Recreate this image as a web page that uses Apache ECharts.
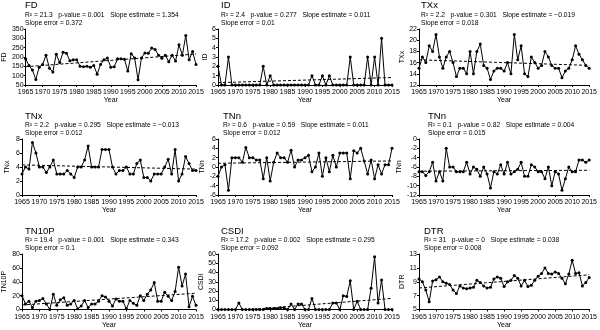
<!DOCTYPE html>
<html>
<head>
<meta charset="utf-8">
<script src="https://cdn.jsdelivr.net/npm/echarts@6/dist/echarts.min.js"></script>
<style>
html, body { margin: 0; padding: 0; background: #fff; }
#chart { width: 600px; height: 330px; }
</style>
</head>
<body>
<div id="chart"></div>
<script>
// years on the x axis
const years = ['1965','1966','1967','1968','1969','1970','1971','1972','1973','1974',
  '1975','1976','1977','1978','1979','1980','1981','1982','1983','1984',
  '1985','1986','1987','1988','1989','1990','1991','1992','1993','1994',
  '1995','1996','1997','1998','1999','2000','2001','2002','2003','2004',
  '2005','2006','2007','2008','2009','2010','2011','2012','2013','2014','2015'];

// index values, 1965..2015
const fd = [190,155,130,80,145,160,210,140,120,215, 170,225,220,180,185,185,150,148,150,145,
  155,108,160,185,195,145,148,190,190,188, 125,218,195,78,195,222,220,248,240,210,
  193,210,175,210,178,265,210,315,185,230, 160];
const id = [2,0,0,3,0,0,0,0,0,0, 0,0,0,2,0,1,0,0,0,0, 0,0,0,0,0,0,0,1,0,0,
  1,0,1,0,0,0,0,0,3,0, 0,0,0,3,0,3,0,5,0,0, 0];
const txx = [15,17,16,19,18,21,17,15,17,18, 16,13.5,15,15,14,18,14,18,19.3,15.5,
  15,13,14.5,15,15,14.5,16,14,21,16.5, 19,14,13.5,17,16,15,15.5,18,17,15.5,
  15,15,13.3,14.5,15,16.5,19,17.5,16.5,15.5, 15];
const tnx = [3,4,3.7,7.5,6,4,4,3.2,4,5, 3,3,3,3.5,3,2.5,4,4,5,7, 4,4,4,6.5,6.5,6.5,4,3,3.5,3.5,
  4,3,3,4.5,5,2.5,2.5,2,3,3, 3,4,5.1,3,6.5,2,3,5.5,4.5,3.5, 3.5];
const tnnA = [-2,0,0.5,-5,2,2,2,1,4.2,2, 2,1.5,1.5,-2.5,2,-3,1,3,2,2, 1,3.6,0,1.5,1.5,2,2.5,-1,0,3,
  -2,2,-1,2.5,0,3,3,3,-2.5,3.5, 3,4,1.3,-1.5,1.5,-2.5,0.5,-1.5,0.5,0.5, 4];
const tnnB = [-7,-7,-7.8,-7,-5,-9,-7,-9,-2,-6, -6,-7,-7,-7,-5,-7.5,-6,-6.5,-8,-6,
  -7.5,-10.5,-7,-7.5,-5.5,-7.5,-5,-7.5,-7,-6.5, -5,-8,-8,-5.5,-6,-7,-7,-8.5,-6,-10,
  -7,-7.5,-11,-8.5,-6,-7,-7,-4.5,-4.5,-5, -4.5];
const tn10p = [20,8,12,3,12,13,16,8,0,22, 6,14,17,6,8,13,1,5,13,3, 8,8,12,20,18,12,5,15,12,12,
  1,13,9,6,20,13,22,28,39,12, 12,25,19,13,26,61,34,51,4,19, 6];
const csdi = [0,0,0,0,0,0,7,0,0,0, 0,0,0,0,1,1,1,1,2,2, 0,6,0,6,6,0,0,12,0,0,
  0,0,0,7,7,0,15,14,31,0, 9,0,0,0,23,57,7,32,0,0, 0];
const dtr = [9.4,9.0,7.8,6.1,9.1,9.3,9.7,9.0,8.8,8.6, 7.8,7.3,8.4,8.1,8.0,8.1,8.2,9.2,8.9,8.4,
  8.1,8.2,9.4,9.7,9.5,8.3,9.0,9.2,9.9,9.5, 8.4,9.2,8.3,8.5,9.2,9.8,10.2,11.0,10.2,10.1,
  10.4,10.2,9.5,8.7,10.1,12.1,10.2,10.3,8.4,8.9, 9.6];

// dashed trend lines: value at 1965 and at 2015
const trendFD = [148, 216];
const trendID = [0.25, 0.8];
const trendTXx = [16.5, 15.5];
const trendTNx = [4.3, 3.7];
const trendTNnA = [0.8, 1.3];
const trendTNnB = [-6.9, -6.7];
const trendTN10P = [6.5, 23.5];
const trendCSDI = [-2.7, 12];
const trendDTR = [8.1, 10.0];

const names = ['FD', 'ID', 'TXx', 'TNx', 'TNn', 'TNn', 'TN10P', 'CSDI', 'DTR'];
const stats = [
  ['R² = 21.3   p-value = 0.001   Slope estimate = 1.354', 'Slope error = 0.372'],
  ['R² = 2.4   p-value = 0.277   Slope estimate = 0.011', 'Slope error = 0.01'],
  ['R² = 2.2   p-value = 0.301   Slope estimate = −0.019', 'Slope error = 0.018'],
  ['R² = 2.2   p-value = 0.295   Slope estimate = −0.013', 'Slope error = 0.012'],
  ['R² = 0.6   p-value = 0.59   Slope estimate = 0.011', 'Slope error = 0.012'],
  ['R² = 0.1   p-value = 0.82   Slope estimate = 0.004', 'Slope error = 0.015'],
  ['R² = 19.4   p-value = 0.001   Slope estimate = 0.343', 'Slope error = 0.1'],
  ['R² = 17.2   p-value = 0.002   Slope estimate = 0.295', 'Slope error = 0.092'],
  ['R² = 31   p-value = 0   Slope estimate = 0.038', 'Slope error = 0.008']
];
const values = [fd, id, txx, tnx, tnnA, tnnB, tn10p, csdi, dtr];
const trends = [trendFD, trendID, trendTXx, trendTNx, trendTNnA, trendTNnB, trendTN10P, trendCSDI, trendDTR];
// y axis ranges [min, max, interval]
const yRanges = [[50,350,50], [0,6,1], [12,22,2], [0,8,2], [-6,6,2], [-12,0,2], [0,80,20], [0,60,10], [5,13,2]];

// layout
const colLeft = [22, 218, 419];
const rowTop = [29, 139, 254];
const titleTop = [0.2, 110.5, 225.5];
const titleLeft = [25, 221, 421, 25, 223, 428, 25, 221, 424];
const yNameGap = [10.5, 7.5, 10.5, 11, 7.5, 9.5, 14, 7.5, 10.5];
const FONT = '"Liberation Sans", Arial, sans-serif';

const myChart = echarts.init(document.getElementById('chart'));

let grid = [], xAxis = [], yAxis = [], title = [], series = [];
names.forEach((nm, i) => {
  const row = Math.floor(i / 3), col = i % 3;
  grid.push({ left: colLeft[col], top: rowTop[row], width: 174, height: 56 });
  title.push({
    text: nm,
    subtext: stats[i][0] + '\n' + stats[i][1],
    left: titleLeft[i], top: titleTop[row],
    padding: 0, itemGap: 0,
    textStyle: { fontSize: 9.5, fontWeight: 'normal', color: '#000', fontFamily: FONT, lineHeight: 11 },
    subtextStyle: { fontSize: 6.7, color: '#000', fontFamily: FONT, lineHeight: 7.7 }
  });
  xAxis.push({
    type: 'category', gridIndex: i, data: years, boundaryGap: false,
    name: 'Year', nameLocation: 'middle', nameGap: row == 2 ? 12.5 : 11.5,
    nameTextStyle: { fontSize: 7, color: '#000', fontFamily: FONT },
    axisLine: { onZero: false, lineStyle: { color: '#000', width: 1 } },
    axisTick: { interval: 4, length: 2, lineStyle: { color: '#000' } },
    axisLabel: { interval: 4, fontSize: 7, margin: row == 2 ? 4.5 : 4, color: '#000', fontFamily: FONT }
  });
  yAxis.push({
    type: 'value', gridIndex: i,
    min: yRanges[i][0], max: yRanges[i][1], interval: yRanges[i][2],
    name: nm, nameLocation: 'middle', nameGap: yNameGap[i],
    nameTextStyle: { fontSize: 7, color: '#000', fontFamily: FONT },
    splitLine: { show: false },
    axisLine: { show: true, lineStyle: { color: '#000', width: 1 } },
    axisTick: { show: true, length: 2, lineStyle: { color: '#000' } },
    axisLabel: { fontSize: 7, margin: 2, color: '#000', fontFamily: FONT }
  });
  series.push({
    type: 'line', xAxisIndex: i, yAxisIndex: i,
    data: values[i],
    symbol: 'circle', symbolSize: 3, showAllSymbol: true,
    lineStyle: { color: '#000', width: 1 },
    itemStyle: { color: '#000' }
  });
  series.push({
    type: 'line', xAxisIndex: i, yAxisIndex: i,
    data: [[years[0], trends[i][0]], [years[years.length - 1], trends[i][1]]],
    symbol: 'none', clip: true,
    lineStyle: { color: '#000', width: 1, type: [3, 2] }
  });
});

myChart.setOption({
  animation: false,
  title: title,
  grid: grid,
  xAxis: xAxis,
  yAxis: yAxis,
  series: series
});
</script>
</body>
</html>
